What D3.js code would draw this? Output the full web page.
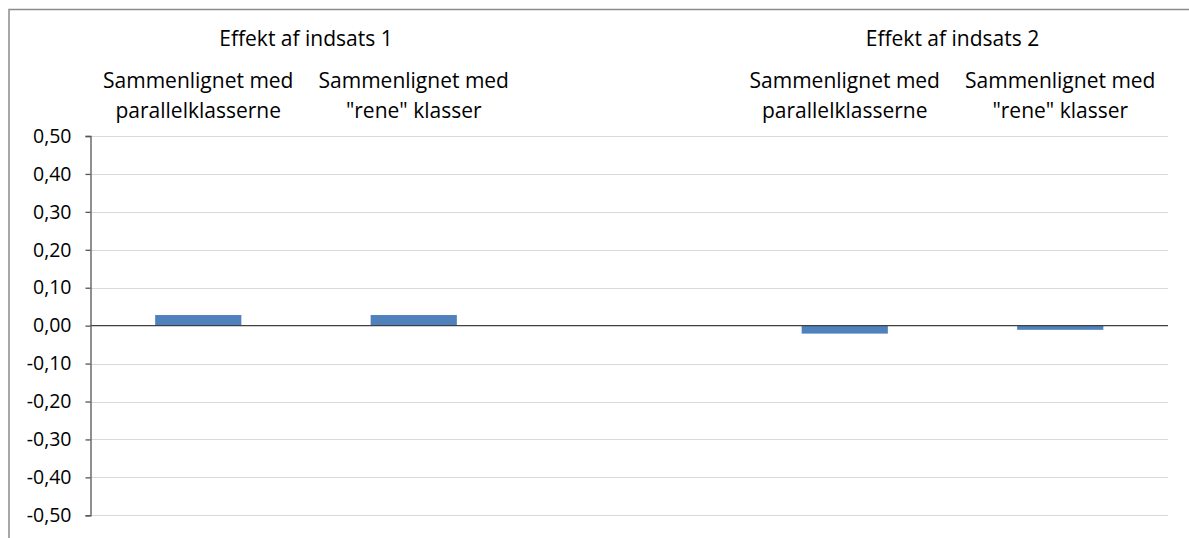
<!DOCTYPE html>
<html>
<head>
<meta charset="utf-8">
<script src="https://cdn.jsdelivr.net/npm/d3@7"></script>
<style>
  html, body { margin: 0; padding: 0; background: #fff; }
  svg { display: block; font-family: "Open Sans", sans-serif; }
</style>
</head>
<body>
<svg id="chart" width="1189" height="538"></svg>
<script>
// Category slots along the x axis (the middle slot is an empty spacer)
const categories = ["k1", "k2", "gap", "k3", "k4"];
const categoryLines = [
  ["Sammenlignet med", "parallelklasserne"],
  ["Sammenlignet med", "\"rene\" klasser"],
  [],
  ["Sammenlignet med", "parallelklasserne"],
  ["Sammenlignet med", "\"rene\" klasser"]
];
// Effect sizes per slot
const values = [0.028, 0.028, null, -0.021, -0.011];
// Group headings and which slots they span
const groupLabels = ["Effekt af indsats 1", "Effekt af indsats 2"];
const groupSlots = [["k1", "k2"], ["k3", "k4"]];
// Y axis ticks
const yTicks = [0.5, 0.4, 0.3, 0.2, 0.1, 0, -0.1, -0.2, -0.3, -0.4, -0.5];

(function () {
  const svg = d3.select("#chart");
  const plotLeft = 90.5, plotRight = 1168, plotTop = 136, plotBottom = 515.3;

  const x = d3.scaleBand().domain(categories).range([plotLeft, plotRight]).padding(0);
  const y = d3.scaleLinear().domain([-0.5, 0.5]).range([plotBottom, plotTop]);

  // Outer chart frame
  svg.append("rect")
    .attr("x", 9).attr("y", 9.5)
    .attr("width", 1300).attr("height", 700)
    .attr("fill", "none").attr("stroke", "#8c8c8c").attr("stroke-width", 1.5);

  // Horizontal gridlines
  svg.append("g").selectAll("line")
    .data(yTicks.filter(d => d !== 0))
    .join("line")
    .attr("x1", plotLeft).attr("x2", plotRight)
    .attr("y1", d => Math.round(y(d)) + 0.5).attr("y2", d => Math.round(y(d)) + 0.5)
    .attr("stroke", "#d9d9d9").attr("stroke-width", 1);

  // Bars
  const barW = x.bandwidth() * 0.4;
  svg.append("g").selectAll("rect")
    .data(categories.map((c, i) => ({ c, v: values[i] })).filter(d => d.v !== null))
    .join("rect")
    .attr("x", d => x(d.c) + (x.bandwidth() - barW) / 2)
    .attr("width", barW)
    .attr("y", d => y(Math.max(0, d.v)))
    .attr("height", d => Math.abs(y(d.v) - y(0)))
    .attr("fill", "#4f81bd");

  // Zero line
  svg.append("line")
    .attr("x1", plotLeft).attr("x2", plotRight)
    .attr("y1", y(0)).attr("y2", y(0))
    .attr("stroke", "#404040").attr("stroke-width", 1.3);

  // Y axis
  const fmt = d => d3.format(".2f")(d).replace("−", "-").replace(".", ",");
  const yAxis = d3.axisLeft(y).tickValues(yTicks).tickFormat(fmt).tickSize(5).tickPadding(14);
  const ga = svg.append("g").attr("transform", `translate(${plotLeft},0)`).call(yAxis);
  ga.select(".domain").attr("stroke", "#555").attr("stroke-width", 1.3);
  ga.selectAll(".tick line").attr("stroke", "#555").attr("stroke-width", 1.3);
  ga.selectAll(".tick text")
    .attr("fill", "#000")
    .style("font-family", "'Open Sans', sans-serif")
    .style("font-size", "19.5px");

  // Category labels above the plot
  const catG = svg.append("g")
    .attr("font-size", 21).attr("fill", "#000").attr("text-anchor", "middle");
  categories.forEach((c, i) => {
    const cx = x(c) + x.bandwidth() / 2;
    categoryLines[i].forEach((line, j) => {
      catG.append("text").attr("x", cx).attr("y", 88 + j * 30).text(line);
    });
  });

  // Group headings
  groupLabels.forEach((g, i) => {
    const xs = groupSlots[i].map(c => x(c) + x.bandwidth() / 2);
    catG.append("text").attr("x", d3.mean(xs)).attr("y", 46).text(g);
  });
})();
</script>
</body>
</html>
